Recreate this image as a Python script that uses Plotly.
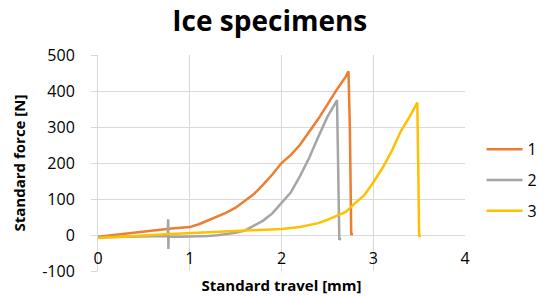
import plotly.graph_objects as go

# ---- data ----
s1_x = [0, 0.1, 0.2, 0.3, 0.4, 0.5, 0.6, 0.7, 0.8, 0.9, 1.0, 1.1, 1.2, 1.3, 1.4, 1.5,
        1.6, 1.7, 1.8, 1.9, 2.0, 2.1, 2.2, 2.3, 2.4, 2.5, 2.6, 2.7, 2.73, 2.745, 2.76, 2.78]
s1_y = [-5, -2, 2, 5, 8, 11, 14, 17, 18, 20, 22, 30, 40, 50, 62, 76,
        94, 114, 140, 168, 200, 222, 250, 285, 322, 362, 403, 440, 455, 300, 3, 2]

s2_x = [0, 0.2, 0.4, 0.6, 0.76, 0.765, 0.767, 0.77, 0.9, 1.0, 1.1, 1.2, 1.3, 1.4, 1.5,
        1.6, 1.7, 1.8, 1.9, 2.0, 2.1, 2.2, 2.3, 2.4, 2.5, 2.6, 2.605, 2.62, 2.63, 2.65]
s2_y = [-6, -5, -4, -3, -3, 44, -39, -4, -5, -5, -5, -3, -1, 2, 6,
        12, 25, 40, 60, 90, 118, 163, 213, 272, 328, 372, 375, 150, -11, -12]

s3_x = [0, 0.2, 0.4, 0.6, 0.8, 1.0, 1.2, 1.4, 1.6, 1.8, 2.0, 2.2, 2.4, 2.5, 2.6, 2.7,
        2.8, 2.9, 3.0, 3.1, 3.2, 3.3, 3.4, 3.48, 3.49, 3.5, 3.52]
s3_y = [-8, -6, -3, 0, 3, 5, 8, 11, 13, 15, 17, 22, 33, 42, 53, 64,
        88, 110, 146, 186, 232, 288, 330, 368, 200, -2, -3]

series_names = ["1", "2", "3"]
series_colors = ["#ED7D31", "#A5A5A5", "#FFC000"]
x_ticks = [0, 1, 2, 3, 4]
y_ticks = [-100, 0, 100, 200, 300, 400, 500]

fig = go.Figure()
for i, (xs, ys) in enumerate([(s1_x, s1_y), (s2_x, s2_y), (s3_x, s3_y)]):
    fig.add_trace(go.Scatter(
        x=xs, y=ys, mode="lines", name=series_names[i],
        legendgroup=series_names[i],
        line=dict(color=series_colors[i], width=2.5),
    ))

grid = "#D9D9D9"
tickfont = dict(family="Open Sans, sans-serif", size=16, color="#000000")

fig.update_layout(
    width=544, height=296,
    margin=dict(l=98, r=79, t=55, b=25, autoexpand=False),
    paper_bgcolor="white", plot_bgcolor="white",
    title=dict(text="<b>Ice specimens</b>", x=0.496, xref="container", y=0.93, yref="container",
               xanchor="center", yanchor="middle",
               font=dict(family="Open Sans, sans-serif", size=28, color="#000000")),
    xaxis=dict(range=[0, 4], tickvals=x_ticks, showticklabels=False, automargin=False,
               showgrid=True, gridcolor=grid, gridwidth=1, zeroline=False,
               showline=False, ticks="",
               title=dict(text="<b>Standard travel [mm]</b>", standoff=9,
                          font=dict(family="Open Sans, sans-serif", size=15, color="#000000"))),
    xaxis2=dict(range=[0, 4], tickvals=x_ticks, ticktext=[str(t) for t in x_ticks],
                overlaying="x", matches="x", anchor="free", position=1/6, side="bottom",
                showgrid=False, zeroline=False, showline=False, ticks="", automargin=False,
                ticklabelstandoff=12, tickfont=tickfont),
    yaxis=dict(range=[-100, 500], tickvals=y_ticks, ticktext=[str(t) for t in y_ticks],
               showgrid=True, gridcolor=grid, gridwidth=1, zeroline=False, automargin=False,
               showline=True, linecolor=grid, linewidth=1,
               ticks="outside", ticklen=6, tickcolor=grid, ticklabelstandoff=13,
               tickfont=tickfont,
               title=dict(text="<b>Standard force [N]</b>", standoff=12,
                          font=dict(family="Open Sans, sans-serif", size=15, color="#000000"))),
    legend=dict(x=1.045, xanchor="left", y=0.42, yanchor="middle",
                tracegroupgap=7, traceorder="grouped", itemwidth=36,
                font=dict(family="Open Sans, sans-serif", size=16, color="#000000"),
                bgcolor="rgba(0,0,0,0)"),
    showlegend=True,
)

# invisible trace so xaxis2 is rendered
fig.add_trace(go.Scatter(x=[None], y=[None], xaxis="x2", yaxis="y", showlegend=False,
                         hoverinfo="skip"))

# remove the default 8px page margin so the figure fills the window
fig.write_html("out.html", config={"displayModeBar": False},
               post_script="document.body.style.margin='0';")
